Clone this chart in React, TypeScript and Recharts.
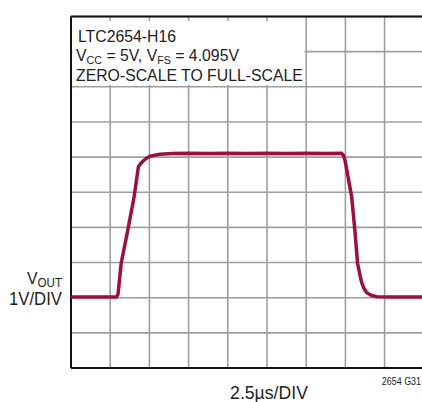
import React from "react";
import { LineChart, Line, XAxis, YAxis, CartesianGrid, ReferenceLine } from "recharts";

// time in divisions (2.5µs/DIV), output in divisions (1V/DIV)
const timeDiv = [0, 1.16, 1.2, 1.28, 1.45, 1.61, 1.72, 1.78, 1.84, 1.93, 2.02, 2.27, 2.6, 3.0, 3.5, 4.0, 4.5, 5.0, 5.5, 6.0, 6.5, 6.9, 6.95, 6.99, 7.16, 7.24, 7.31, 7.38, 7.42, 7.48, 7.54, 7.65, 7.8, 8.2, 9.0, 10];
const voutDiv = [2.02, 2.02, 2.1, 2.98, 3.93, 4.87, 5.73, 5.82, 5.89, 5.97, 6.03, 6.08, 6.1, 6.11, 6.1, 6.11, 6.1, 6.11, 6.1, 6.11, 6.1, 6.11, 6.05, 5.91, 4.87, 3.93, 2.98, 2.6, 2.41, 2.25, 2.15, 2.07, 2.03, 2.02, 2.02, 2.02];
const gridTicks = [0, 1, 2, 3, 4, 5, 6, 7, 8, 9, 10];

const data = timeDiv.map((t, i) => ({ t, v: voutDiv[i] }));

const FONT = "'Liberation Sans', Arial, sans-serif";

function T({ x, y, size, anchor = "start", sx = 0.93, children }: any) {
  return (
    <text transform={`translate(${x},${y}) scale(${sx},1)`} fontSize={size} textAnchor={anchor}>
      {children}
    </text>
  );
}

export default function App() {
  return (
    <div style={{ position: "absolute", left: 0, top: 0, width: 422, height: 402, overflow: "hidden", background: "#fff" }}>
      <LineChart width={470} height={402} data={data} margin={{ top: 16.5, right: 7, bottom: 34, left: 71 }}>
        <XAxis type="number" dataKey="t" domain={[0, 10]} ticks={gridTicks} hide />
        <YAxis type="number" domain={[0, 10]} ticks={gridTicks} hide />
        <CartesianGrid stroke="#9e9e9e" strokeWidth={1.6} />
        <ReferenceLine x={0} stroke="#111" strokeWidth={2} />
        <ReferenceLine y={0} stroke="#111" strokeWidth={2} />
        <ReferenceLine y={10} stroke="#111" strokeWidth={2} />
        <Line type="linear" dataKey="v" stroke="#9E0F3C" strokeWidth={3.5} dot={false} isAnimationActive={false} />
      </LineChart>
      <svg width={422} height={402} style={{ position: "absolute", left: 0, top: 0 }} fontFamily={FONT} fill="#222">
        <rect x={72.5} y={21} width={232} height={64} fill="#fff" />
        <T x={78} y={41.7} size={17}>LTC2654-H16</T>
        <T x={76} y={60.5} size={17}>
          V<tspan fontSize={11.5} dy={3}>CC</tspan>
          <tspan dy={-3}> = 5V, V</tspan>
          <tspan fontSize={11.5} dy={3}>FS</tspan>
          <tspan dy={-3}> = 4.095V</tspan>
        </T>
        <T x={76} y={80.5} size={17}>ZERO-SCALE TO FULL-SCALE</T>
        <T x={62} y={283.5} size={17} anchor="end">
          V<tspan fontSize={12.5} dy={3}>OUT</tspan>
        </T>
        <T x={62} y={305} size={18} anchor="end">1V/DIV</T>
        <T x={269} y={399} size={19} anchor="middle">2.5µs/DIV</T>
        <T x={421} y={385} size={10.5} anchor="end" sx={0.85}>2654 G31</T>
      </svg>
    </div>
  );
}
